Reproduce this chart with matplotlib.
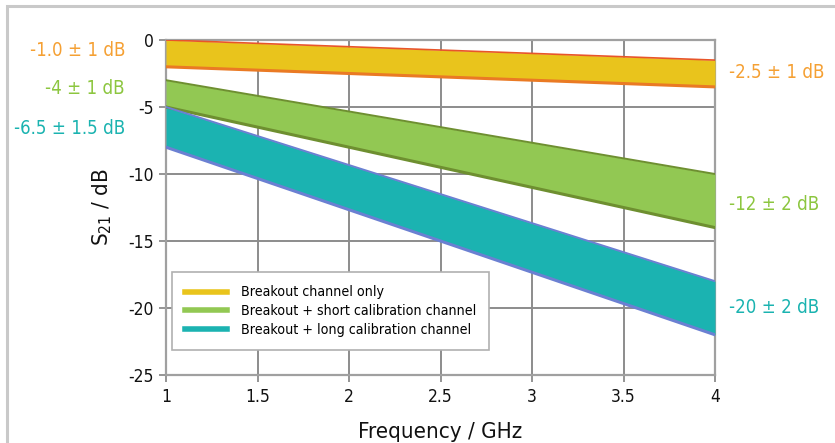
import matplotlib
matplotlib.use("Agg")
import matplotlib.pyplot as plt
from matplotlib.patches import Rectangle
from matplotlib.lines import Line2D

plt.rcParams['font.family'] = ['DejaVu Sans']
plt.rcParams['font.stretch'] = 'condensed'
plt.rcParams['axes.unicode_minus'] = False

# insertion loss bands: centre value and tolerance at 1 GHz and 4 GHz
freq = [1, 4]
only_centre = [-1.0, -2.5]
only_tol = [1, 1]
short_centre = [-4, -12]
short_tol = [1, 2]
long_centre = [-6.5, -20]
long_tol = [1.5, 2]

left_labels = ["-1.0 ± 1 dB", "-4 ± 1 dB", "-6.5 ± 1.5 dB"]
right_labels = ["-2.5 ± 1 dB", "-12 ± 2 dB", "-20 ± 2 dB"]
# vertical position of the side labels (data units)
left_y = [-0.8, -3.6, -6.6]
right_y = [-2.4, -12.3, -19.95]
legend_labels = ["Breakout channel only",
                 "Breakout + short calibration channel",
                 "Breakout + long calibration channel"]

fills = ["#e9c41c", "#92c853", "#1bb3b1"]
text_colors = ["#f5a033", "#8cc63f", "#1ab3b0"]
top_edges = ["#e8552a", "#6e8f30", "#6b80d2"]
bot_edges = ["#ea7a24", "#6e8f30", "#6b80d2"]

fig = plt.figure(figsize=(8.35, 4.43), dpi=100)
fig.patches.append(Rectangle((7 / 835, -0.1), 1.2, 0.1 + 437 / 443,
                             transform=fig.transFigure, fill=False,
                             edgecolor="#c9c9c9", lw=2.2))
ax = fig.add_axes([166 / 835, 68 / 443, 549 / 835, 335 / 443])

bands = [(only_centre, only_tol), (short_centre, short_tol), (long_centre, long_tol)]
for i, (c, t) in enumerate(bands):
    hi = [a + b for a, b in zip(c, t)]
    lo = [a - b for a, b in zip(c, t)]
    ax.fill_between(freq, lo, hi, color=fills[i], lw=0, zorder=3)
    ax.plot(freq, hi, color=top_edges[i], lw=1.2 if i == 0 else 1.4, zorder=4)
    ax.plot(freq, lo, color=bot_edges[i], lw=2.2, zorder=4)

ax.set_xlim(1, 4)
ax.set_ylim(-25, 0)
ax.set_xticks([1, 1.5, 2, 2.5, 3, 3.5, 4])
ax.set_xticklabels(["1", "1.5", "2", "2.5", "3", "3.5", "4"])
ax.set_yticks([0, -5, -10, -15, -20, -25])
ax.grid(True, color="#8c8c8c", lw=1.4, zorder=1)
for s in ax.spines.values():
    s.set_color("#a0a0a0")
    s.set_linewidth(1.6)
ax.tick_params(colors="#8c8c8c", labelcolor="#111111", labelsize=12.5,
               length=5, width=1.3, pad=4)
ax.set_xlabel("Frequency / GHz", fontsize=16, labelpad=12, color="#111111")
ax.set_ylabel("S$_{21}$ / dB", fontsize=16, labelpad=10, color="#111111")

for i in range(3):
    ax.annotate(left_labels[i], xy=(1, left_y[i]), xycoords="data",
                xytext=(125 / 835, 0), textcoords=("figure fraction", "offset points"),
                fontsize=13.4, color=text_colors[i], ha="right", va="center")
    ax.annotate(right_labels[i], xy=(4, right_y[i]), xycoords="data",
                xytext=(729 / 835, 0), textcoords=("figure fraction", "offset points"),
                fontsize=13.4, color=text_colors[i], ha="left", va="center")

handles = [Line2D([], [], color=f, lw=4) for f in fills]
leg = ax.legend(handles, legend_labels, loc="lower left",
                bbox_to_anchor=(6 / 549, 25 / 335), borderaxespad=0,
                fontsize=10.2, frameon=True, fancybox=False, framealpha=1,
                handlelength=2.9, handletextpad=1.0, labelspacing=0.32,
                borderpad=0.95)
leg.get_frame().set_edgecolor("#b0b0b0")
leg.get_frame().set_linewidth(1.2)
leg.set_zorder(5)

fig.savefig("out.png", dpi=100)
